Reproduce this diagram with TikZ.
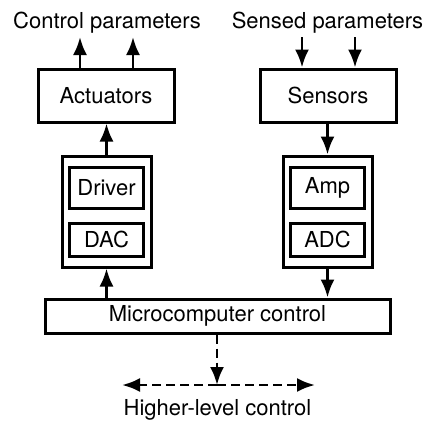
\documentclass[tikz,border=0pt]{standalone}
\usepackage{fontspec}
\setmainfont{TeX Gyre Heros}
\usetikzlibrary{arrows.meta}
\begin{document}
\begin{tikzpicture}[x=1pt,y=-1pt,
  font=\fontsize{22}{26}\selectfont,
  box/.style={draw,line width=3pt,inner sep=0pt,minimum width=#1},
  caption/.style={anchor=base,inner sep=0pt},
  flow/.style={line width=2.8pt,-{Latex[length=18pt,width=14pt]}},
  dflow/.style={flow,dash pattern=on 9pt off 5pt}]
\useasboundingbox (0,0) rectangle (427,421);

% upper row: actuator and sensor blocks
\node[box=136pt,minimum height=53pt] (act) at (106,95.5) {Actuators};
\node[box=136pt,minimum height=53pt] (sen) at (328,95.5) {Sensors};

% interface blocks with their inner stages
\node[box=89pt,minimum height=111pt] (lout) at (106.5,211.5) {};
\node[box=74pt,minimum height=41pt] (drv) at (106.5,187.5) {Driver};
\node[box=74pt,minimum height=33pt] (dac) at (106.5,239.5) {DAC};
\node[box=89pt,minimum height=111pt] (rout) at (327.5,211.5) {};
\node[box=74pt,minimum height=41pt] (amp) at (327.5,187.5) {Amp};
\node[box=74pt,minimum height=33pt] (adc) at (327.5,239.5) {ADC};

% controller
\node[box=345pt,minimum height=34pt] (mc) at (217.5,316) {Microcomputer control};

% labels
\node[caption] (cp) at (107,28.5) {Control parameters};
\node[caption] (sp) at (327.5,28.5) {Sensed parameters};
\node[caption] (hl) at (217.5,415) {Higher-level control};

% free ends
\coordinate (cp1) at (80,37);
\coordinate (cp2) at (133,37);
\coordinate (sp1) at (302,37);
\coordinate (sp2) at (355,37);
\coordinate (hj) at (217,385);
\coordinate (hleft) at (122,385);
\coordinate (hright) at (315,385);

% signal flow
\draw[flow] (act.north -| cp1) -- (cp1);
\draw[flow] (act.north -| cp2) -- (cp2);
\draw[flow] (sp1) -- (sen.north -| sp1);
\draw[flow] (sp2) -- (sen.north -| sp2);
\draw[flow] (lout.north) -- (act.south -| lout.north);
\draw[flow] (sen.south -| rout.north) -- (rout.north);
\draw[flow] (mc.north -| lout.south) -- (lout.south);
\draw[flow] (rout.south) -- (mc.north -| rout.south);
\draw[dflow] (mc.south -| hj) -- (hj);
\draw[dflow] (hj) -- (hleft);
\draw[dflow] (hj) -- (hright);
\end{tikzpicture}
\end{document}
